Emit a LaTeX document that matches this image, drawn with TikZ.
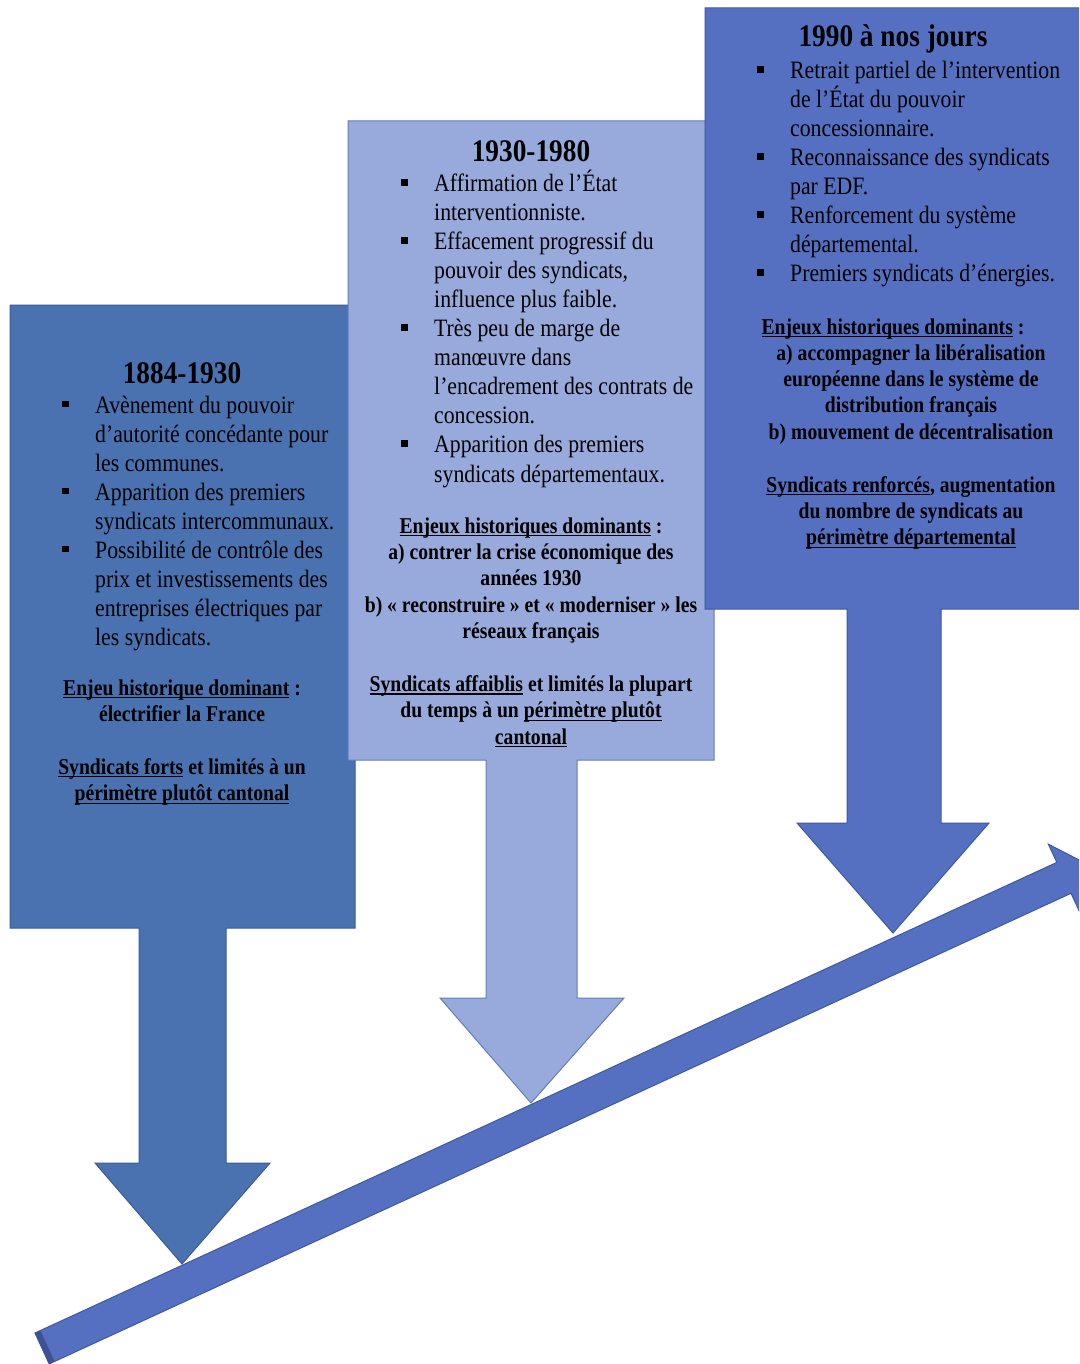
\documentclass[tikz,border=0pt]{standalone}
\usepackage{fontspec}
\setmainfont{Liberation Serif}[FakeStretch=0.87]
\newcommand\bulsq{\leavevmode\llap{\rule[6pt]{6.5pt}{6.5pt}\hspace{26.5pt}}}
\newcommand\uln[1]{\leavevmode\setbox0\hbox{#1}\rlap{\rule[-3.2pt]{\wd0}{1.3pt}}\box0\relax}
\definecolor{boxA}{RGB}{74,114,176}
\definecolor{boxAline}{RGB}{58,92,150}
\definecolor{boxB}{RGB}{151,170,219}
\definecolor{boxBline}{RGB}{100,124,190}
\definecolor{boxC}{RGB}{85,112,192}
\definecolor{boxCline}{RGB}{62,88,160}
\definecolor{tailC}{RGB}{60,82,150}
\tikzset{
  body/.style={font=\fontsize{25}{29}\selectfont, text width=330pt, align=flush left, inner sep=0pt, anchor=base west},
  boldtxt/.style={font=\bfseries\fontsize{22.6}{26.4}\selectfont, text width=420pt, align=flush center, inner sep=0pt, anchor=base},
  titletxt/.style={font=\bfseries\fontsize{31.4}{36}\selectfont, inner sep=0pt, anchor=base},
  callA/.style={fill=boxA, draw=boxAline, line width=1pt, line join=miter},
  callB/.style={fill=boxB, draw=boxBline, line width=1pt, line join=miter},
  callC/.style={fill=boxC, draw=boxCline, line width=1pt, line join=miter},
}
\begin{document}
\begin{tikzpicture}[x=1pt,y=-1pt]
\useasboundingbox (0,0) rectangle (1079,1364);
\clip (0,0) rectangle (1079,1364);
% callout 1
\path[callA] (10,305) -- (355,305) -- (355,928) -- (226,928) -- (226,1163) -- (270,1163) -- (182,1264) -- (95,1163) -- (139,1163) -- (139,928) -- (10,928) -- cycle;
% callout 2
\path[callB] (348,121) -- (714,121) -- (714,760) -- (577,760) -- (577,998) -- (624,998) -- (531,1103) -- (440,998) -- (486,998) -- (486,760) -- (348,760) -- cycle;
% callout 3
\path[callC] (705,8) -- (1085,8) -- (1085,609) -- (941,609) -- (941,823) -- (989,823) -- (893,933) -- (797,823) -- (847,823) -- (847,609) -- (705,609) -- cycle;
% timeline arrow
\path[callC] (35,1333) -- (1056.8,862.4) -- (1048.4,844.2) -- (1090.3,865.7) -- (1079.4,911.4) -- (1071.0,893.3) -- (49.2,1363.9) -- cycle;
\path[fill=tailC] (35,1333) -- (40.4,1330.5) -- (54.6,1361.4) -- (49.2,1363.9) -- cycle;

% texts box 1
\node[titletxt] (t1) at (182,383) {1884-1930};
\node[body] (b1) at (95,413) {\bulsq Avènement du pouvoir\\ d’autorité concédante pour\\ les communes.\\ \bulsq Apparition des premiers\\ syndicats intercommunaux.\\ \bulsq Possibilité de contrôle des\\ prix et investissements des\\ entreprises électriques par\\ les syndicats.};
\node[boldtxt] (e1) at (182,695) {\uln{Enjeu historique dominant} :\\ électrifier la France\\[26.4pt] \uln{Syndicats forts} et limités à un\\ \uln{périmètre plutôt cantonal}};

% texts box 2
\node[titletxt] (t2) at (531,162) {1930-1980};
\node[body] (b2) at (434,192) {\bulsq Affirmation de l’État\\ interventionniste.\\ \bulsq Effacement progressif du\\ pouvoir des syndicats,\\ influence plus faible.\\ \bulsq Très peu de marge de\\ manœuvre dans\\ l’encadrement des contrats de\\ concession.\\ \bulsq Apparition des premiers\\ syndicats départementaux.};
\node[boldtxt] (e2) at (531,533) {\uln{Enjeux historiques dominants} :\\ a) contrer la crise économique des\\ années 1930\\ b) «~reconstruire~» et «~moderniser~» les\\ réseaux français\\[26.4pt] \uln{Syndicats affaiblis} et limités la plupart\\ du temps à un \uln{périmètre plutôt}\\ \uln{cantonal}};

% texts box 3
\node[titletxt] (t3) at (893,47) {1990 à nos jours};
\node[body] (b3) at (790,79) {\bulsq Retrait partiel de l’intervention\\ de l’État du pouvoir\\ concessionnaire.\\ \bulsq Reconnaissance des syndicats\\ par EDF.\\ \bulsq Renforcement du système\\ départemental.\\ \bulsq Premiers syndicats d’énergies.};
\node[boldtxt] (h3) at (893,334) {\uln{Enjeux historiques dominants} :};
\node[boldtxt] (e3) at (911,360) {a) accompagner la libéralisation\\ européenne dans le système de\\ distribution français\\ b) mouvement de décentralisation\\[26.4pt] \uln{Syndicats renforcés}, augmentation\\ du nombre de syndicats au\\ \uln{périmètre départemental}};
\end{tikzpicture}
\end{document}
